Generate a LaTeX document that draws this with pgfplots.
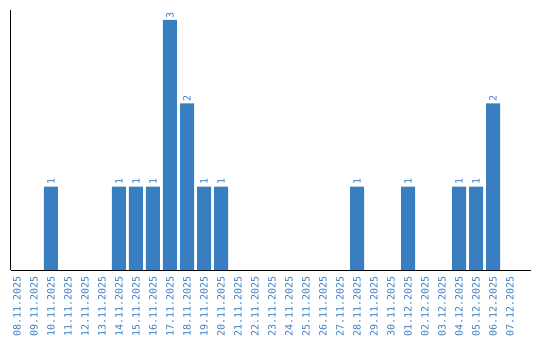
\documentclass[border=0pt]{standalone}
\usepackage{pgfplots}
\pgfplotsset{compat=1.18}
\usepackage{fontspec}
\setmainfont{DejaVu Sans}
\newfontfamily\labelfont{DejaVu Sans Mono}
\definecolor{barblue}{RGB}{58,126,194}
\begin{document}
\begin{tikzpicture}
\useasboundingbox (0,0) rectangle (540pt,340pt);
\begin{axis}[
  at={(10.5pt,70pt)}, anchor=south west,
  scale only axis,
  width=520.5pt, height=260pt,
  xmin=-0.382, xmax=30.235,
  ymin=0, ymax=3.12,
  axis x line*=bottom, axis y line*=left,
  axis line style={-, black, line width=1pt},
  ytick=\empty,
  xtick={0,...,29},
  major tick length=0pt,
  xticklabels={08.11.2025,09.11.2025,10.11.2025,11.11.2025,12.11.2025,13.11.2025,14.11.2025,15.11.2025,16.11.2025,17.11.2025,18.11.2025,19.11.2025,20.11.2025,21.11.2025,22.11.2025,23.11.2025,24.11.2025,25.11.2025,26.11.2025,27.11.2025,28.11.2025,29.11.2025,30.11.2025,01.12.2025,02.12.2025,03.12.2025,04.12.2025,05.12.2025,06.12.2025,07.12.2025},
  xticklabel style={yshift=-6pt, rotate=90, anchor=east, inner sep=0pt, font=\labelfont\fontsize{10}{10}\selectfont, text=barblue},
  /pgf/number format/assume math mode=true,
  ybar, bar width=14pt,
  nodes near coords,
  every node near coord/.append style={rotate=90, anchor=west, inner sep=1.5pt, font=\labelfont\fontsize{10}{10}\selectfont, text=barblue},
]
\addplot[fill=barblue, draw=none] coordinates {
  (2,1) (6,1) (7,1) (8,1) (9,3) (10,2) (11,1) (12,1)
  (20,1) (23,1) (26,1) (27,1) (28,2)
};
\end{axis}
\end{tikzpicture}
\end{document}
